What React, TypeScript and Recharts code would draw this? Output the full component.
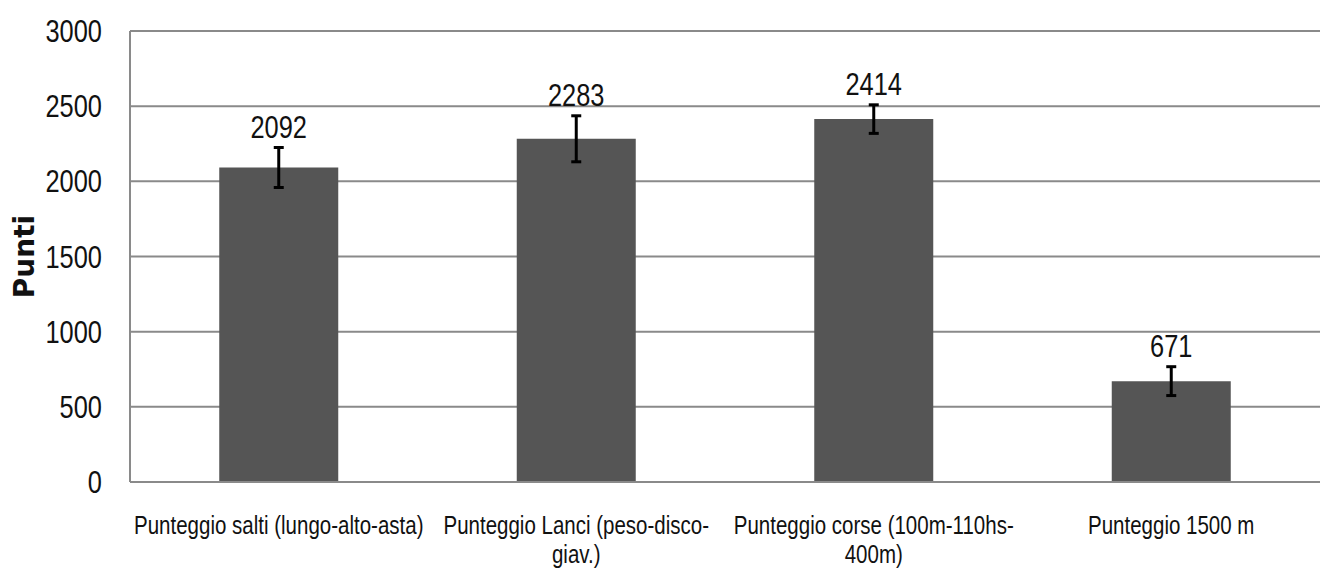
import React from 'react'
import { Bar, BarChart, CartesianGrid, ErrorBar, LabelList, XAxis, YAxis } from 'recharts'

// Punteggi medi per gruppo di specialità, con deviazione standard
const CATEGORIES = [
  'Punteggio salti (lungo-alto-asta)',
  'Punteggio Lanci (peso-disco-\ngiav.)',
  'Punteggio corse (100m-110hs-\n400m)',
  'Punteggio 1500 m',
]
const SCORES = [2092, 2283, 2414, 671]
const ERRORS = [133, 153, 95, 96]
const Y_TICKS = [0, 500, 1000, 1500, 2000, 2500, 3000]

const data = CATEGORIES.map((name, i) => ({ name, score: SCORES[i], err: ERRORS[i] }))

// No Calibri / Arial Narrow here: squeeze Liberation Sans horizontally instead.
const FONT = "'Liberation Sans', Arial, sans-serif"
const SQUEEZE = 0.82
const GRID = '#8a8a8a'
const INK = '#111'

function Narrow({ x, y, anchor = 'middle', size, children, dy = 0 }: any) {
  return (
    <g transform={`translate(${x},${y}) scale(${SQUEEZE},1)`}>
      <text x={0} y={dy} textAnchor={anchor} fontFamily={FONT} fontSize={size} fill={INK}>
        {children}
      </text>
    </g>
  )
}

function CategoryTick({ x, y, payload }: any) {
  const lines = String(payload.value).split('\n')
  return (
    <g>
      {lines.map((line, i) => (
        <Narrow key={i} x={x} y={y} size={25} dy={44 + i * 29}>{line}</Narrow>
      ))}
    </g>
  )
}

function ValueTick({ x, y, payload }: any) {
  return <Narrow x={x} y={y} anchor="end" size={31} dy={11}>{payload.value}</Narrow>
}

// Excel-style label sitting above the top of the error bar
function ValueLabel({ x, y, width, height, value, index }: any) {
  const perUnit = height / value
  const top = y - ERRORS[index] * perUnit
  return <Narrow x={x + width / 2} y={top - 10} size={31}>{value}</Narrow>
}

function AxisTitle({ viewBox }: any) {
  const cy = viewBox.y + viewBox.height / 2
  return (
    <text
      x={24}
      y={cy}
      transform={`rotate(-90, 24, ${cy})`}
      textAnchor="middle"
      dominantBaseline="central"
      fontFamily="'DejaVu Sans', sans-serif"
      fontWeight="bold"
      fontSize={28}
      fill={INK}
    >
      Punti
    </text>
  )
}

export default function App() {
  return (
    <div style={{ position: 'fixed', left: 0, top: 0, background: '#fff' }}>
      <BarChart
        width={1320}
        height={574}
        data={data}
        margin={{ top: 31, right: 0, left: 30, bottom: 0 }}
        barCategoryGap="30%"
      >
        <CartesianGrid stroke={GRID} strokeWidth={2} vertical={false} />
        <XAxis
          dataKey="name"
          height={92}
          interval={0}
          tickLine={false}
          axisLine={{ stroke: GRID, strokeWidth: 2 }}
          tick={<CategoryTick />}
        />
        <YAxis
          width={100}
          domain={[0, 3000]}
          ticks={Y_TICKS}
          interval={0}
          tickLine={false}
          tickMargin={22}
          axisLine={{ stroke: GRID, strokeWidth: 2 }}
          tick={<ValueTick />}
          label={{ content: <AxisTitle /> }}
        />
        <Bar dataKey="score" fill="#555555" isAnimationActive={false}>
          <ErrorBar dataKey="err" stroke="#000" strokeWidth={3} width={5} />
          <LabelList dataKey="score" content={<ValueLabel />} />
        </Bar>
      </BarChart>
    </div>
  )
}
